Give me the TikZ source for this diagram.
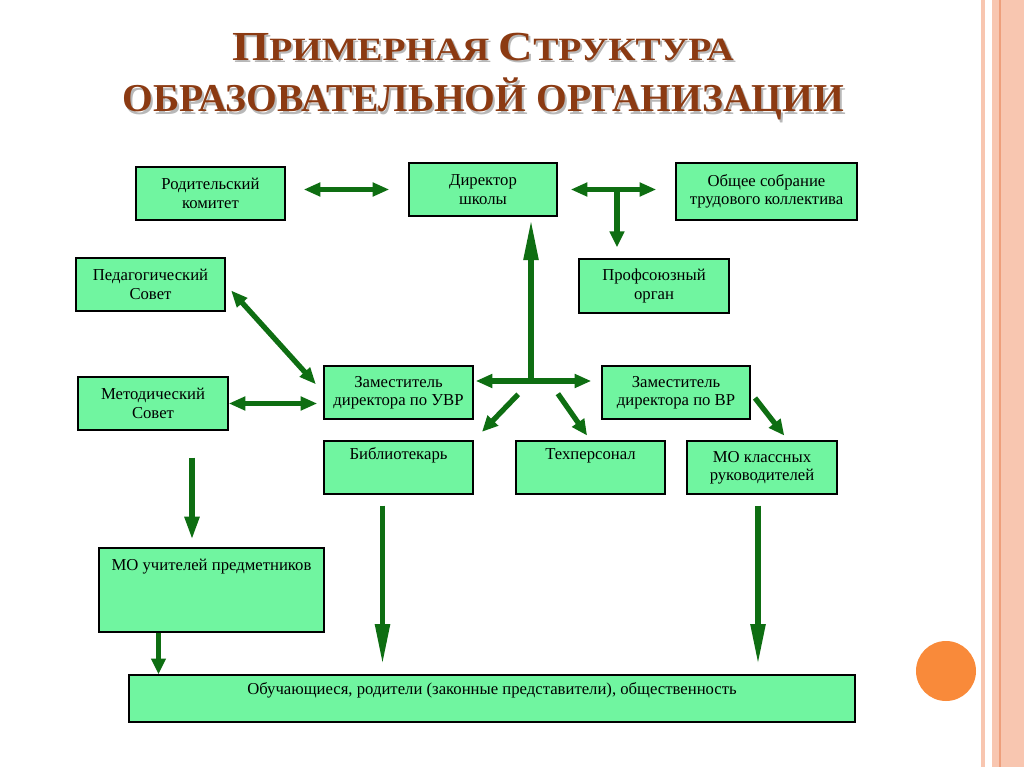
\documentclass[tikz,border=0pt]{standalone}
\usepackage{fontspec}
\setmainfont{Liberation Serif}
\usepackage{graphicx}
\usepackage{tikz}
\usetikzlibrary{arrows.meta,positioning,calc}
\definecolor{boxGreen}{HTML}{70F5A0}
\definecolor{arrowGreen}{HTML}{0E6E12}
\definecolor{titleBrown}{HTML}{8B3A12}
\definecolor{shadowGray}{HTML}{B8B8B8}
\definecolor{stripeLight}{HTML}{F8C6B0}
\definecolor{stripeDark}{HTML}{EE9F7C}
\definecolor{dotOrange}{HTML}{F98A3A}
\newcommand{\boxfont}{\fontsize{9.5}{10.5}\selectfont}
\newcommand{\titlelineA}{\scalebox{1.16}[1]{\fontsize{18.5}{19}\selectfont
  {\fontsize{23.5}{24}\selectfont П}РИМЕРНАЯ {\fontsize{23.5}{24}\selectfont С}ТРУКТУРА}}
\newcommand{\titlelineB}{\scalebox{1.0}[1]{\fontsize{22.5}{23}\selectfont ОБРАЗОВАТЕЛЬНОЙ ОРГАНИЗАЦИИ}}

\begin{document}
\begin{tikzpicture}[
    x=0.02cm, y=-0.02cm,
    box/.style={draw=black, line width=0.8pt, fill=boxGreen, align=center, font=\boxfont, inner sep=2pt},
    title/.style={font=\bfseries, text=titleBrown, inner sep=0pt, anchor=base},
    titleshade/.style={title, text=shadowGray},
    link/.style={draw=arrowGreen, line width=3pt},
    dblarrow/.style={link, {Triangle[length=9.5pt,width=7.5pt]}-{Triangle[length=9.5pt,width=7.5pt]}},
    onearrow/.style={link, -{Triangle[length=9pt,width=8pt]}},
    midarrow/.style={link, -{Triangle[length=13pt,width=8pt]}},
    longarrow/.style={link, -{Triangle[length=23pt,width=8pt]}}
]
    \useasboundingbox[fill=white] (0,0) rectangle (1024,767);

    % side decoration
    \fill[stripeLight] (981,0) rectangle (985,767);
    \fill[stripeLight] (992,0) rectangle (1024,767);
    \draw[stripeDark, line width=0.6pt] (1000,0) -- (1000,767);
    \fill[dotOrange] (946,671) circle [radius=0.6cm];

    % title
    \node[titleshade] (titleAs) at (485,63) {\titlelineA};
    \node[title] (titleA) at (483,61) {\titlelineA};
    \node[titleshade] (titleBs) at (485,114) {\titlelineB};
    \node[title] (titleB) at (483,112) {\titlelineB};

    % boxes
    \node[box, minimum width=2.98cm, minimum height=1.06cm] (rodkom) at (210.5,193.5) {Родительский\\комитет};
    \node[box, minimum width=2.96cm, minimum height=1.06cm] (dir) at (483,189.5) {Директор\\школы};
    \node[box, minimum width=3.62cm, minimum height=1.14cm] (sobr) at (766.5,191.5) {Общее собрание\\трудового коллектива};
    \node[box, minimum width=3.0cm, minimum height=1.08cm] (prof) at (654,286) {Профсоюзный\\орган};
    \node[box, minimum width=2.98cm, minimum height=1.06cm] (pedsov) at (150.5,284.5) {Педагогический\\Совет};
    \node[box, minimum width=3.0cm, minimum height=1.06cm] (metsov) at (153,403.5) {Методический\\Совет};
    \node[box, minimum width=2.98cm, minimum height=1.06cm] (zuvr) at (398.5,392.5) {Заместитель\\директора по УВР};
    \node[box, minimum width=2.96cm, minimum height=1.06cm] (zvr) at (676,392.5) {Заместитель\\директора по ВР};
    \node[box, minimum width=2.98cm, text height=8.5pt, text depth=17.5pt] (bibl) at (398.5,467.5) {Библиотекарь};
    \node[box, minimum width=2.98cm, text height=8.5pt, text depth=17.5pt] (tech) at (590.5,467.5) {Техперсонал};
    \node[box, minimum width=3.0cm, minimum height=1.06cm] (mokl) at (762,467.5) {МО классных\\руководителей};
    \node[box, minimum width=4.5cm, text height=10.5pt, text depth=33.1pt] (moup) at (211.5,590) {МО учителей предметников};
    \node[box, minimum width=14.52cm, text height=8.8pt, text depth=13.8pt] (learn) at (492,698.5)
        {Обучающиеся, родители (законные представители), общественность};

    % junctions
    \coordinate (hub) at (531,381);
    \coordinate (tee) at (617,189.5);
    \coordinate (metdrop) at ($(metsov.south)+(39,0)$);
    \coordinate (bibldrop) at ($(bibl.south)+(-16,0)$);
    \coordinate (mokldrop) at ($(mokl.south)+(-4,0)$);
    \coordinate (moupdrop) at ($(moup.south)+(-53,0)$);

    \draw[dblarrow, shorten <=0.36cm, shorten >=0.38cm] (dir.west -| rodkom.east) -- (dir.west);
    \draw[dblarrow, shorten <=0.26cm, shorten >=0.38cm] (dir.east) -- (dir.east -| sobr.west);
    \draw[onearrow, shorten >=0.22cm] (tee) -- (tee |- prof.north);
    \draw[longarrow, shorten >=0.06cm] (hub) -- (hub |- dir.south);
    \draw[dblarrow, shorten <=0.04cm, shorten >=0.2cm] (hub -| zuvr.east) -- (hub -| zvr.west);
    \draw[dblarrow, shorten <=0.16cm, shorten >=0.22cm] (pedsov.east) -- (zuvr.west);
    \draw[dblarrow, shorten >=0.12cm] (metsov.east) -- (metsov.east -| zuvr.west);
    \draw[onearrow, shorten <=0.37cm, shorten >=0.24cm] (hub) -- (bibl.north east);
    \draw[onearrow, shorten <=0.31cm, shorten >=0.12cm] ($(hub)+(18,0)$) -- (tech.north);
    \draw[onearrow, shorten <=0.14cm, shorten >=0.12cm] (zvr.east) -- ($(mokl.north)+(26,0)$);
    \draw[midarrow, shorten <=0.54cm, shorten >=0.16cm] (metdrop) -- (metdrop |- moup.north);
    \draw[longarrow, shorten <=0.22cm, shorten >=0.2cm] (bibldrop) -- (bibldrop |- learn.north);
    \draw[longarrow, shorten <=0.22cm, shorten >=0.2cm] (mokldrop) -- (mokldrop |- learn.north);
    \draw[onearrow] (moupdrop) -- (moupdrop |- learn.north);
\end{tikzpicture}
\end{document}
